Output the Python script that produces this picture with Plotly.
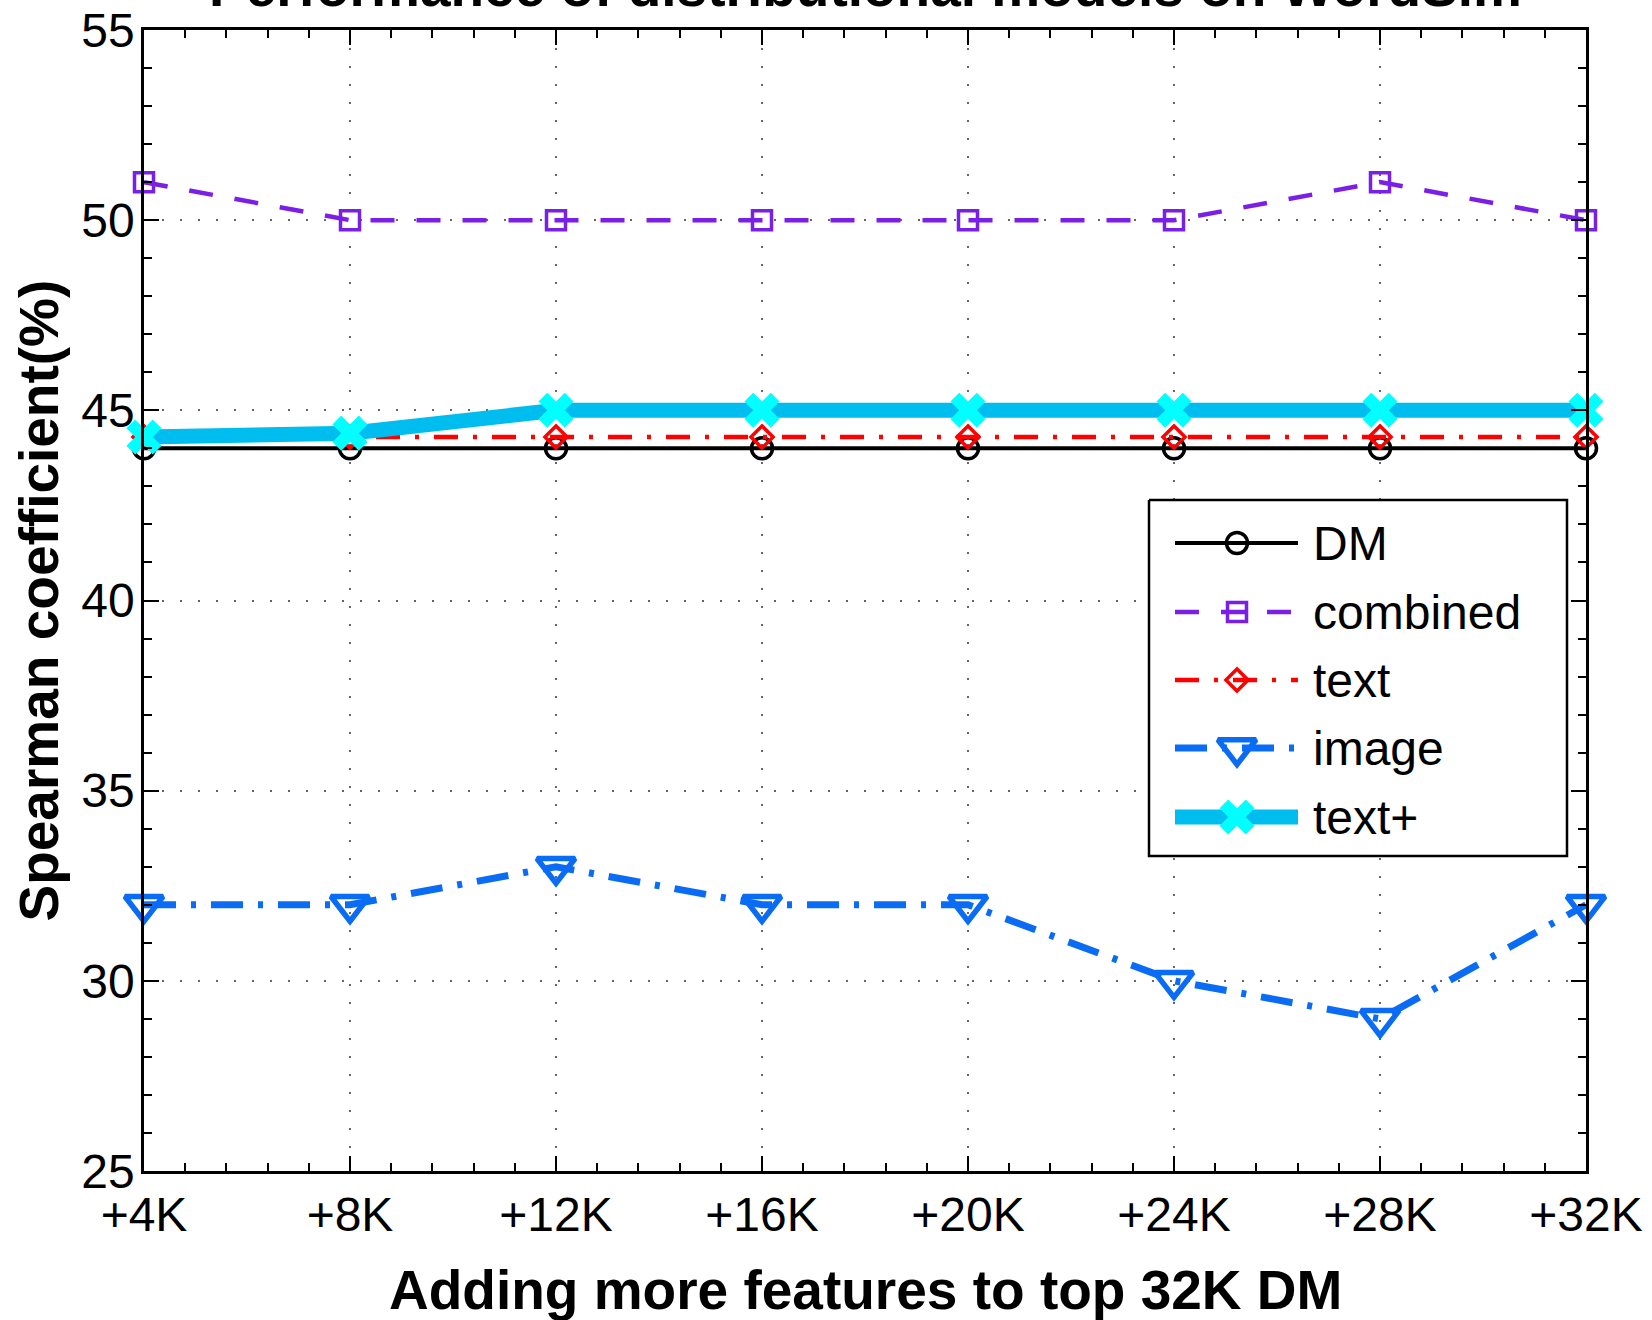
import plotly.graph_objects as go

# ---- data -------------------------------------------------------------
x_vals = [4, 8, 12, 16, 20, 24, 28, 32]
x_labels = ["+4K", "+8K", "+12K", "+16K", "+20K", "+24K", "+28K", "+32K"]

dm = [44, 44, 44, 44, 44, 44, 44, 44]
combined = [51, 50, 50, 50, 50, 50, 51, 50]
text = [44.3, 44.3, 44.3, 44.3, 44.3, 44.3, 44.3, 44.3]
image = [32, 32, 33, 32, 32, 30, 29, 32]
text_plus = [44.3, 44.4, 45, 45, 45, 45, 45, 45]

y_ticks = [25, 30, 35, 40, 45, 50, 55]

# ---- styles -----------------------------------------------------------
FONT = "Liberation Sans"
W, H = 1652, 1320
ML, MR, MT, MB = 144, 66, 30, 149

series = [
    dict(name="DM", y=dm, color="black", lw=4, dash="solid",
         msym="circle-open", msize=21, mcolor="black", mlw=3.5),
    dict(name="combined", y=combined, color="#7a1fe6", lw=4.5, dash="24px,22px",
         msym="square-open", msize=19, mcolor="#7a1fe6", mlw=3.5),
    dict(name="text", y=text, color="#ff0000", lw=4.5, dash="24px,15px,4px,15px",
         msym="diamond-open", msize=17, mcolor="#ff0000", mlw=3.5),
    dict(name="image", y=image, color="#0a6cf5", lw=7, dash="32px,15px,5px,15px",
         msym="triangle-down-open", msize=33, mcolor="#0a6cf5", mlw=5.5),
    dict(name="text+", y=text_plus, color="#00bdef", lw=15, dash="solid",
         msym="x", msize=31, mcolor="#00ffff", mlw=0),
]

fig = go.Figure()

for s in series:
    fig.add_trace(go.Scatter(
        x=x_vals, y=s["y"], mode="lines+markers", name=s["name"],
        line=dict(color=s["color"], width=s["lw"], dash=s["dash"]),
        marker=dict(symbol=s["msym"], size=s["msize"], color=s["mcolor"],
                    line=dict(color=s["mcolor"], width=s["mlw"])),
        cliponaxis=False, showlegend=False,
    ))

# ---- legend drawn on a pixel-scaled overlay axis ------------------------
plot_w = W - ML - MR
plot_h = H - MT - MB
box_x0, box_x1, box_y0, box_y1 = 1149, 1567, 500, 856
fig.add_trace(go.Scatter(
    x=[box_x0, box_x1, box_x1, box_x0, box_x0],
    y=[box_y0, box_y0, box_y1, box_y1, box_y0],
    mode="lines", fill="toself", fillcolor="white",
    line=dict(color="black", width=2.5),
    xaxis="x2", yaxis="y2", showlegend=False, hoverinfo="skip",
))
row_y = [543, 612, 680, 748, 817]
line_x0, line_x1, mark_x, text_x = 1175, 1298, 1237, 1311
for s, ry in zip(series, row_y):
    fig.add_trace(go.Scatter(
        x=[line_x0, line_x1], y=[ry, ry], mode="lines",
        line=dict(color=s["color"], width=s["lw"], dash=s["dash"]),
        xaxis="x2", yaxis="y2", showlegend=False, hoverinfo="skip",
    ))
    fig.add_trace(go.Scatter(
        x=[mark_x], y=[ry], mode="markers",
        marker=dict(symbol=s["msym"], size=s["msize"], color=s["mcolor"],
                    line=dict(color=s["mcolor"], width=s["mlw"])),
        xaxis="x2", yaxis="y2", showlegend=False, hoverinfo="skip",
    ))
    fig.add_annotation(
        x=text_x, y=ry, xref="x2", yref="y2", text=s["name"],
        xanchor="left", yanchor="middle", showarrow=False,
        font=dict(family=FONT, size=48, color="black"),
    )

# ---- titles -----------------------------------------------------------
fig.add_annotation(
    x=0.5, y=1 + 10.5 / plot_h, xref="paper", yref="paper",
    text="Performance of distributional models on WordSim",
    xanchor="center", yanchor="bottom", showarrow=False,
    font=dict(family=FONT, size=55, color="black", weight="bold"),
)
fig.add_annotation(
    x=0.5, y=-(1290 - (H - MB)) / plot_h, xref="paper", yref="paper",
    text="Adding more features to top 32K DM",
    xanchor="center", yanchor="middle", showarrow=False,
    font=dict(family=FONT, size=55, color="black", weight="bold"),
)
fig.add_annotation(
    x=(38 - ML) / plot_w, y=0.5, xref="paper", yref="paper",
    text="Spearman coefficient(%)", textangle=-90,
    xanchor="center", yanchor="middle", showarrow=False,
    font=dict(family=FONT, size=55, color="black", weight="bold"),
)

axis_common = dict(
    showline=True, linecolor="black", linewidth=2.5, mirror="allticks",
    ticks="inside", ticklen=15, tickwidth=1.5, tickcolor="black",
    showgrid=True, gridcolor="#666666", gridwidth=1.5, griddash="2px,16px",
    zeroline=False, automargin=False,
    tickfont=dict(family=FONT, size=48, color="black"),
)

fig.update_layout(
    width=W, height=H,
    margin=dict(l=ML, r=MR, t=MT, b=MB, pad=0, autoexpand=False),
    paper_bgcolor="white", plot_bgcolor="white",
    xaxis=dict(
        range=[4, 32], tickmode="array", tickvals=x_vals, ticktext=x_labels,
        minor=dict(dtick=0.8, tick0=4, ticks="inside", ticklen=8,
                   tickcolor="black", tickwidth=1.5, showgrid=False),
        **axis_common,
    ),
    yaxis=dict(
        range=[25, 55], tickmode="array", tickvals=y_ticks,
        minor=dict(dtick=1, tick0=25, ticks="inside", ticklen=8,
                   tickcolor="black", tickwidth=1.5, showgrid=False),
        ticklabelstandoff=-3,
        **axis_common,
    ),
    xaxis2=dict(range=[ML, W - MR], overlaying="x", visible=False,
                fixedrange=True, automargin=False),
    yaxis2=dict(range=[H - MB, MT], overlaying="y", visible=False,
                fixedrange=True, automargin=False),
    showlegend=False,
)

fig.write_html("out.html")
